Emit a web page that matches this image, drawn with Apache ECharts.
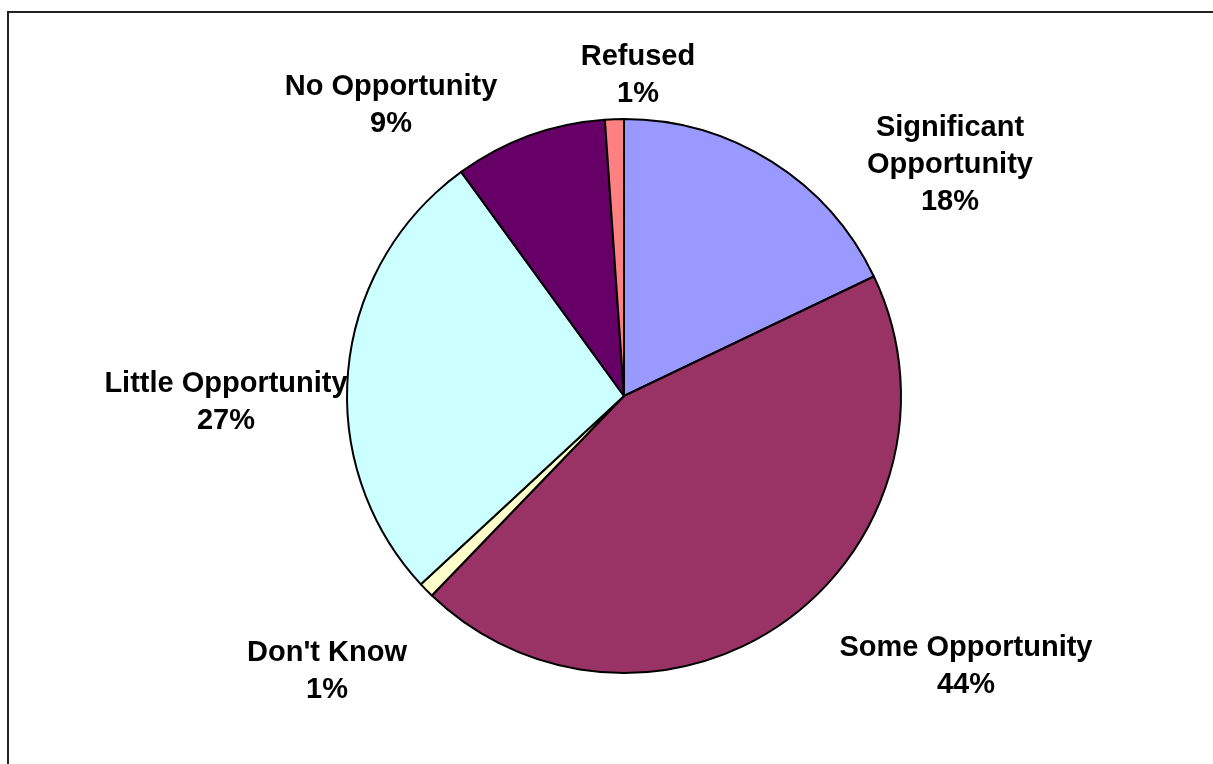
<!DOCTYPE html>
<html>
<head>
<meta charset="utf-8">
<script src="https://cdn.jsdelivr.net/npm/echarts@6/dist/echarts.min.js"></script>
<style>
  html, body { margin: 0; padding: 0; background: #fff; }
  #chart { width: 1213px; height: 764px; }
</style>
</head>
<body>
<div id="chart"></div>
<script>
// survey answers, clockwise from 12 o'clock
const categories = ['Significant\nOpportunity', 'Some Opportunity', "Don't Know", 'Little Opportunity', 'No Opportunity', 'Refused'];
const shares = [17.9, 44.3, 0.9, 26.9, 8.9, 1.1];
const sliceColors = ['#9999FF', '#993366', '#FFFFCC', '#CCFFFF', '#660066', '#FF8080'];

// where Excel dropped each label (centre of the text block)
const labelSpots = [[950, 165], [966, 666], [327, 671], [226, 402], [391, 105], [638, 75]];

const chart = echarts.init(document.getElementById('chart'));

chart.setOption({
    animation: false,
    backgroundColor: '#fff',
    graphic: [{
        type: 'rect',
        shape: { x: 8, y: 12, width: 1400, height: 1000 },
        style: { fill: 'none', stroke: '#222', lineWidth: 2 },
        z: 100
    }],
    series: [{
        type: 'pie',
        center: [624, 396],
        radius: 277,
        startAngle: 90,
        clockwise: true,
        avoidLabelOverlap: false,
        percentPrecision: 2,
        itemStyle: { borderColor: '#000', borderWidth: 2 },
        label: {
            show: true,
            position: 'outside',
            color: '#000',
            fontFamily: 'Liberation Sans, Arial, sans-serif',
            fontWeight: 'bold',
            fontSize: 29,
            lineHeight: 37,
            align: 'center',
            formatter: p => p.name + '\n' + Math.round(p.percent) + '%'
        },
        labelLine: { show: false },
        labelLayout: p => ({
            x: labelSpots[p.dataIndex][0],
            y: labelSpots[p.dataIndex][1],
            align: 'center',
            verticalAlign: 'middle'
        }),
        emphasis: { disabled: true },
        data: categories.map((c, i) => ({
            name: c,
            value: shares[i],
            itemStyle: { color: sliceColors[i] }
        }))
    }]
});
</script>
</body>
</html>
